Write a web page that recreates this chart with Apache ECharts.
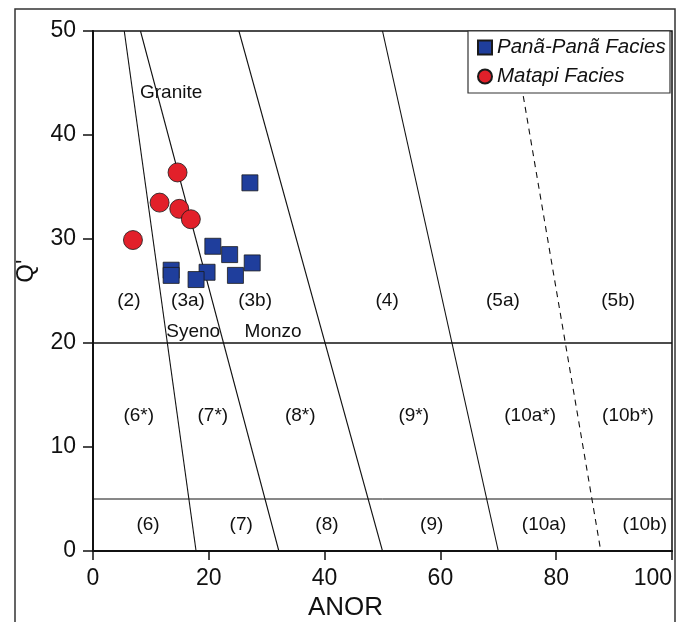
<!DOCTYPE html>
<html>
<head>
<meta charset="utf-8">
<script src="https://cdn.jsdelivr.net/npm/echarts@6/dist/echarts.min.js"></script>
<style>
  html, body { margin: 0; padding: 0; background: #fff; }
  #chart { width: 686px; height: 622px; }
</style>
</head>
<body>
<div id="chart"></div>
<script>
// sample points [ANOR, Q']
var panaPana = [[27.1, 35.4], [20.7, 29.3], [23.6, 28.5], [27.5, 27.7], [13.5, 27.0],
                [13.5, 26.5], [19.7, 26.8], [17.8, 26.1], [24.6, 26.5]];
var matapi = [[14.6, 36.4], [11.5, 33.5], [14.9, 32.9], [16.9, 31.9], [6.9, 29.9]];

// field boundaries, each from Q'=50 down to Q'=0
var solidBounds = [
    [[5.4, 50], [17.8, 0]],
    [[8.2, 50], [32.1, 0]],
    [[25.2, 50], [50, 0]],
    [[50, 50], [70, 0]]
];
var dashedBound = [[72.4, 50], [87.7, 0]];
var qLines = [20, 5];

// field names [ANOR, Q', text]
var fieldNames = [
    [13.5, 44.1, 'Granite'],
    [6.2, 24.1, '(2)'], [16.4, 24.1, '(3a)'], [28.0, 24.1, '(3b)'],
    [50.8, 24.1, '(4)'], [70.8, 24.1, '(5a)'], [90.7, 24.1, '(5b)'],
    [17.3, 21.1, 'Syeno'], [31.1, 21.1, 'Monzo'],
    [7.9, 13.0, '(6*)'], [20.7, 13.0, '(7*)'], [35.8, 13.0, '(8*)'],
    [55.4, 13.0, '(9*)'], [75.5, 13.0, '(10a*)'], [92.4, 13.0, '(10b*)'],
    [9.5, 2.5, '(6)'], [25.6, 2.5, '(7)'], [40.4, 2.5, '(8)'],
    [58.5, 2.5, '(9)'], [77.9, 2.5, '(10a)'], [95.3, 2.5, '(10b)']
];

var font = 'Liberation Sans, Arial, sans-serif';
var chart = echarts.init(document.getElementById('chart'));

var series = [];

solidBounds.forEach(function (b) {
    series.push({
        type: 'line', data: b, symbol: 'none', silent: true, z: 1,
        lineStyle: {color: '#111', width: 1.1}
    });
});
series.push({
    type: 'line', data: dashedBound, symbol: 'none', silent: true, z: 1,
    lineStyle: {color: '#111', width: 1.1, type: [6, 5]}
});
qLines.forEach(function (q, i) {
    series.push({
        type: 'line', data: [[0, q], [100, q]], symbol: 'none', silent: true, z: 1,
        lineStyle: {color: '#111', width: i == 0 ? 1.5 : 1}
    });
});

// 分区名称
series.push({
    type: 'scatter', silent: true, z: 1,
    data: fieldNames.map(function (f) { return {value: [f[0], f[1]], name: f[2]}; }),
    symbolSize: 1,
    itemStyle: {color: 'rgba(0,0,0,0)', opacity: 1},
    label: {
        show: true, position: 'inside', formatter: '{b}',
        fontFamily: font, fontSize: 19, color: '#111'
    }
});

series.push({
    name: 'Panã-Panã Facies', type: 'scatter', data: panaPana, z: 5,
    symbol: 'rect', symbolSize: 16,
    itemStyle: {color: '#1f3e9c', borderColor: '#1a1a1a', borderWidth: 0.8, opacity: 1}
});
series.push({
    name: 'Matapi Facies', type: 'scatter', data: matapi, z: 6,
    symbol: 'circle', symbolSize: 19,
    itemStyle: {color: '#e2202a', borderColor: '#1a1a1a', borderWidth: 0.8, opacity: 1}
});

var option = {
    animation: false,
    backgroundColor: '#fff',
    grid: {
        left: 93, right: 14, top: 31, bottom: 71,
        outerBoundsMode: 'none',
        show: true, borderColor: '#111', borderWidth: 1.5
    },
    xAxis: {
        type: 'value', min: 0, max: 100, interval: 20,
        name: 'ANOR', nameLocation: 'middle', nameGap: 40,
        nameTextStyle: {fontFamily: font, fontSize: 26, color: '#111', padding: [0, 74, 0, 0]},
        axisLine: {show: true, onZero: false, lineStyle: {color: '#111', width: 2}},
        axisTick: {show: true, length: 9, lineStyle: {color: '#111', width: 1.5}},
        axisLabel: {fontFamily: font, fontSize: 23, color: '#111', margin: 16, alignMaxLabel: 'right'},
        splitLine: {show: false}
    },
    yAxis: {
        type: 'value', min: 0, max: 50, interval: 10,
        name: "Q'", nameLocation: 'middle', nameGap: 55,
        nameTextStyle: {fontFamily: font, fontSize: 24, color: '#111', padding: [0, 0, 0, 40]},
        axisLine: {show: true, onZero: false, lineStyle: {color: '#111', width: 2}},
        axisTick: {show: true, length: 10, lineStyle: {color: '#111', width: 1.5}},
        axisLabel: {fontFamily: font, fontSize: 23, color: '#111', margin: 17},
        splitLine: {show: false}
    },
    legend: {
        data: ['Panã-Panã Facies', 'Matapi Facies'],
        orient: 'vertical', left: 477, top: 36,
        itemWidth: 14, itemHeight: 14, itemGap: 6, padding: 0,
        selectedMode: false,
        textStyle: {fontFamily: font, fontSize: 20.5, fontStyle: 'italic', color: '#111', lineHeight: 23}
    },
    graphic: [
        {
            type: 'rect', z: 3,
            shape: {x: 468, y: 31, width: 202, height: 62},
            style: {fill: '#fff', stroke: '#333', lineWidth: 1.2}
        },
        {
            type: 'rect', z: 0, silent: true,
            shape: {x: 15, y: 9, width: 660, height: 640},
            style: {fill: 'none', stroke: '#333', lineWidth: 1.5}
        }
    ],
    series: series
};

chart.setOption(option);
</script>
</body>
</html>
